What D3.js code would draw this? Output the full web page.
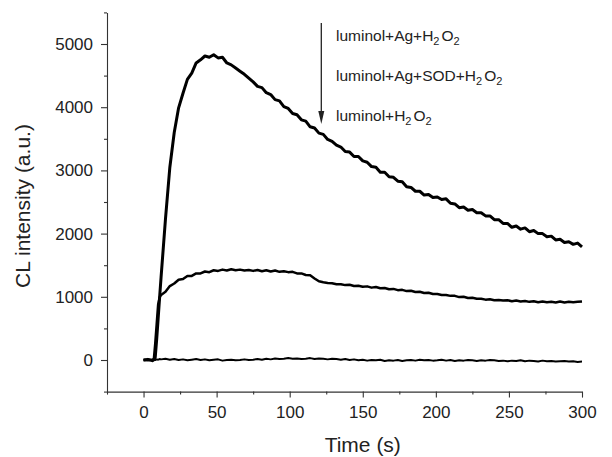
<!DOCTYPE html>
<html>
<head>
<meta charset="utf-8">
<script src="https://cdn.jsdelivr.net/npm/d3@7"></script>
<style>
  body { margin: 0; background: #fff; }
  svg text { font-family: "Liberation Sans", Arial, sans-serif; fill: #222; }
</style>
</head>
<body>
<div id="chart"></div>
<script>

// time points (s), shared by all three traces
const timeS = [0,3,6,7,8,9,10,11,12,
    15,18,21,24,27,30,33,36,39,42,
    45,48,51,54,57,60,63,66,69,72,
    75,78,81,84,87,90,93,96,99,102,
    105,108,111,114,117,120,123,126,129,132,
    135,138,141,144,147,150,153,156,159,162,
    165,168,171,174,177,180,183,186,189,192,
    195,198,201,204,207,210,213,216,219,222,
    225,228,231,234,237,240,243,246,249,252,
    255,258,261,264,267,270,273,276,279,282,
    285,288,291,294,297,300];

// luminol+Ag+H2O2
const agH2O2 = [0,10,-10,5,40,330,660,990,1310,
    2230,3050,3600,3990,4220,4440,4540,4700,4750,4810,
    4790,4830,4780,4790,4700,4670,4620,4570,4520,4460,
    4400,4330,4310,4230,4200,4120,4100,4010,3980,3900,
    3880,3800,3780,3690,3670,3590,3570,3490,3460,3400,
    3370,3300,3290,3220,3220,3150,3130,3060,3050,2970,
    2970,2900,2890,2830,2820,2740,2730,2670,2670,2610,
    2620,2570,2580,2540,2550,2480,2470,2410,2420,2370,
    2380,2330,2330,2280,2280,2220,2220,2160,2160,2100,
    2120,2070,2090,2030,2050,2000,2000,1950,1960,1900,
    1910,1860,1870,1830,1850,1790];

// luminol+Ag+SOD+H2O2
const agSodH2O2 = [0,-5,5,0,260,570,880,990,1030,
    1080,1170,1210,1270,1280,1330,1330,1370,1370,1400,
    1390,1420,1410,1430,1415,1435,1420,1430,1415,1425,
    1410,1425,1405,1420,1400,1415,1395,1405,1390,1395,
    1370,1370,1345,1340,1290,1245,1230,1220,1215,1200,
    1200,1185,1190,1170,1175,1160,1165,1145,1155,1135,
    1140,1120,1125,1105,1110,1090,1095,1075,1080,1060,
    1065,1045,1045,1030,1030,1015,1015,995,1000,980,
    985,970,970,955,960,945,950,940,945,930,
    940,925,935,920,930,915,925,915,920,910,
    925,910,920,915,920,925];

// luminol+H2O2
const onlyH2O2 = [0,10,-5,5,0,10,5,15,10,
    20,5,15,0,10,-5,5,15,0,10,
    -5,5,10,-10,0,5,-5,0,10,0,
    5,15,5,20,10,25,15,20,30,20,
    25,15,20,30,15,25,20,10,20,15,
    5,15,0,10,-5,5,-10,0,-5,5,
    -15,-5,-10,0,-15,-5,0,-10,5,-5,
    0,-10,-5,5,-10,0,-15,-5,-10,0,
    -5,-15,-5,-10,0,-5,-15,-10,-20,-10,
    -15,-5,-20,-10,-15,-25,-10,-20,-15,-25,
    -20,-15,-25,-20,-30,-25];

const xTicks = [0, 50, 100, 150, 200, 250, 300];
const xMinor = [-25, 25, 75, 125, 175, 225, 275];
const yTicks = [0, 1000, 2000, 3000, 4000, 5000];
const yMinor = [-500, 500, 1500, 2500, 3500, 4500, 5500];

const traces = [
    {name: "luminol+Ag+H2O2", values: agH2O2, width: 3.0},
    {name: "luminol+Ag+SOD+H2O2", values: agSodH2O2, width: 2.5},
    {name: "luminol+H2O2", values: onlyH2O2, width: 2.0}
];

const margin = {top: 12.4, right: 30, bottom: 65.4, left: 107};
const W = 612, H = 457;
const width = W - margin.left - margin.right;
const height = H - margin.top - margin.bottom;

const svg = d3.select("#chart").append("svg")
    .attr("width", W)
    .attr("height", H);

const g = svg.append("g")
    .attr("transform", "translate(" + margin.left + "," + margin.top + ")");

const x = d3.scaleLinear().domain([-25, 300]).range([0, width]);
const y = d3.scaleLinear().domain([-500, 5500]).range([height, 0]);

// axes
g.append("g")
    .attr("transform", "translate(0," + height + ")")
    .call(d3.axisBottom(x).tickValues(xTicks).tickFormat(d3.format("d"))
        .tickSize(6).tickSizeOuter(0).tickPadding(8));
g.append("g")
    .attr("transform", "translate(0," + height + ")")
    .call(d3.axisBottom(x).tickValues(xMinor).tickSize(3).tickSizeOuter(0).tickFormat(""))
    .select(".domain").remove();

g.append("g")
    .call(d3.axisLeft(y).tickValues(yTicks).tickFormat(d3.format("d"))
        .tickSize(6).tickSizeOuter(0).tickPadding(8));
g.append("g")
    .call(d3.axisLeft(y).tickValues(yMinor).tickSize(3).tickSizeOuter(0).tickFormat(""))
    .select(".domain").remove();

g.selectAll(".domain, .tick line").attr("stroke", "#333").attr("stroke-width", 1.1);
g.selectAll(".tick text")
    .style("font-family", "'Liberation Sans', Arial, sans-serif")
    .style("font-size", "17px")
    .attr("fill", "#222");

// axis titles
svg.append("text")
    .attr("x", margin.left + x(150))
    .attr("y", 452)
    .attr("text-anchor", "middle")
    .style("font-size", "21px")
    .text("Time (s)");

svg.append("text")
    .attr("transform", "translate(30," + (margin.top + height / 2 + 4) + ") rotate(-90)")
    .attr("text-anchor", "middle")
    .style("font-size", "21px")
    .text("CL intensity (a.u.)");

// traces
const line = d3.line()
    .x(function(d, i) { return x(timeS[i]); })
    .y(function(d) { return y(d); });

g.selectAll("path.trace")
    .data(traces)
    .enter()
    .append("path")
    .attr("class", "trace")
    .attr("d", function(d) { return line(d.values); })
    .attr("fill", "none")
    .attr("stroke", "#000")
    .attr("stroke-width", function(d) { return d.width; })
    .attr("stroke-linejoin", "round");

// legend: arrow + labels
const arrowX = 321.3;
svg.append("line")
    .attr("x1", arrowX).attr("x2", arrowX)
    .attr("y1", 23).attr("y2", 114)
    .attr("stroke", "#222").attr("stroke-width", 1.3);
svg.append("path")
    .attr("d", "M" + (arrowX - 3) + ",111 L" + (arrowX + 3) + ",111 L" + arrowX + ",124 Z")
    .attr("fill", "#222");

const labelParts = [
    ["luminol+Ag+H", "2", "O", "2"],
    ["luminol+Ag+SOD+H", "2", "O", "2"],
    ["luminol+H", "2", "O", "2"]
];

labelParts.forEach(function(p, i) {
    const t = svg.append("text")
        .attr("x", 336)
        .attr("y", 40.5 + i * 40)
        .style("font-size", "15.5px");
    t.append("tspan").text(p[0]);
    t.append("tspan").attr("dy", 4).style("font-size", "11px").text(p[1]);
    t.append("tspan").attr("dy", -4).attr("dx", 2).text(p[2]);
    t.append("tspan").attr("dy", 4).style("font-size", "11px").text(p[3]);
});

</script>
</body>
</html>
